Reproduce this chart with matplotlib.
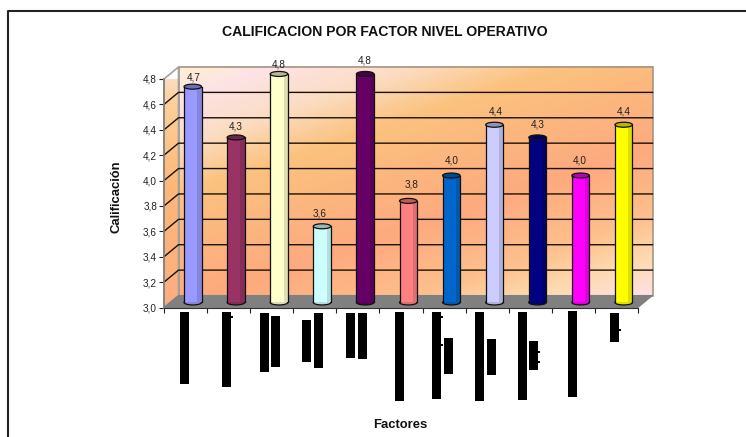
#!/usr/bin/env python3
"""
Calificacion por factor, nivel operativo: pseudo-3D cylinder chart.
Output: out.png
"""

import numpy as np
import matplotlib
matplotlib.use("Agg")
import matplotlib.pyplot as plt
from matplotlib.colors import LinearSegmentedColormap, to_rgb
from matplotlib.patches import Ellipse, Polygon, Rectangle

plt.rcParams["font.family"] = ["Liberation Sans", "DejaVu Sans"]

W, H = 746, 437

VALUES = [4.7, 4.3, 4.8, 3.6, 4.8, 3.8, 4.0, 4.4, 4.3, 4.0, 4.4]
VALUE_LABELS = ["4,7", "4,3", "4,8", "3,6", "4,8", "3,8", "4,0", "4,4", "4,3", "4,0", "4,4"]
BAR_COLORS = ["#9999FF", "#993366", "#FFFFCC", "#CCFFFF", "#660066", "#FF8080",
              "#0066CC", "#CCCCFF", "#000080", "#FF00FF", "#FFFF00"]
Y_TICKS = [3.0, 3.2, 3.4, 3.6, 3.8, 4.0, 4.2, 4.4, 4.6, 4.8]
Y_TICK_LABELS = ["3,0", "3,2", "3,4", "3,6", "3,8", "4,0", "4,2", "4,4", "4,6", "4,8"]

# gap between cylinder top and its value label, px
LABEL_GAPS = [9, 11, 9, 13, 13, 16, 15, 13, 13, 15, 13]
LABEL_SHIFTS = [1, 0, 0, -2, 0, 3, 0, 1, 0, -1, 0]

# blacked-out factor names under the axis: left, top, bottom (px)
NAME_BLOCKS = [
    (180, 312, 384), (222, 312, 387), (260, 313, 372), (271, 316, 367),
    (302, 320, 362), (314, 313, 368), (346, 313, 358), (358, 313, 359),
    (395, 312, 401), (432, 312, 399), (444, 338, 374), (475, 312, 401),
    (487, 339, 375), (518, 312, 400), (529, 341, 370), (568, 311, 397),
    (610, 313, 342),
]
# specks of the same names poking out past the blocks: x, y (px)
NAME_SPECKS = [(231, 316), (441, 316), (441, 344), (538, 351), (538, 361), (619, 329)]

AX_LEFT, AX_RIGHT, AX_TOP, AX_BOTTOM = 164, 638, 79, 307.5
DEPTH_X, DEPTH_Y = 14.5, 12
BAR_W_PX, CAP_H_PX = 17.5, 5

wall_cmap = LinearSegmentedColormap.from_list("wall", [
    (0.00, "#FFEFD2"), (0.08, "#FDE3E6"), (0.20, "#FBDDC4"), (0.33, "#FBC27E"),
    (0.62, "#FDAA7E"), (0.80, "#FDC08C"), (0.90, "#FDDAB0"), (1.00, "#FFE1E4"),
])
side_cmap = LinearSegmentedColormap.from_list("side", [
    (0.00, "#FFE2D4"), (0.15, "#FDD09A"), (0.50, "#FCB878"), (1.00, "#FDAE80"),
])

fig = plt.figure(figsize=(W / 100, H / 100), dpi=100)

# page-level layer in pixel coordinates: outer border and name blocks
page = fig.add_axes([0, 0, 1, 1])
page.set_xlim(0, W)
page.set_ylim(H, 0)
page.axis("off")
page.plot([7.5, 7.5, W], [H, 10.5, 10.5], color="#222222", linewidth=1.5)
for left, top, bottom in NAME_BLOCKS:
    page.add_patch(Rectangle((left, top), 9, bottom - top, color="black", linewidth=0))
for x, y in NAME_SPECKS:
    page.add_patch(Rectangle((x, y), 1.5, 1.5, color="black", linewidth=0))

ax = fig.add_axes([AX_LEFT / W, 1 - AX_BOTTOM / H, (AX_RIGHT - AX_LEFT) / W, (AX_BOTTOM - AX_TOP) / H])
ax.patch.set_alpha(0)
ax.set_xlim(0, len(VALUES))
ax.set_ylim(Y_TICKS[0], Y_TICKS[-1])

px_x = len(VALUES) / (AX_RIGHT - AX_LEFT)
px_y = (Y_TICKS[-1] - Y_TICKS[0]) / (AX_BOTTOM - AX_TOP)
dx, dy = DEPTH_X * px_x, DEPTH_Y * px_y
xmax = len(VALUES)
y0, y1 = Y_TICKS[0], Y_TICKS[-1]

# back wall, diagonal gradient
gx, gy = np.meshgrid(np.linspace(0, 1, 300), np.linspace(0, 1, 200))
ax.imshow(gx * 0.41 + gy * 0.59, cmap=wall_cmap, vmin=0, vmax=1, aspect="auto", interpolation="bilinear",
          extent=(dx, xmax + dx, y0 + dy, y1 + dy), origin="upper", clip_on=False, zorder=1)
ax.add_patch(Polygon([(dx, y0 + dy), (dx, y1 + dy), (xmax + dx, y1 + dy), (xmax + dx, y0 + dy)],
                     fill=False, edgecolor="#A59585", linewidth=1.2, clip_on=False, zorder=2))

# side wall
side = ax.imshow(np.linspace(0, 1, 100)[:, None], cmap=side_cmap, vmin=0, vmax=1, aspect="auto",
                 extent=(0, dx, y0, y1 + dy), origin="upper", clip_on=True, zorder=1)
side_poly = Polygon([(0, y0), (0, y1), (dx, y1 + dy), (dx, y0 + dy)], fill=False,
                    edgecolor="#A0A0A0", linewidth=1.2, clip_on=False, zorder=2)
ax.add_patch(side_poly)
side.set_clip_path(side_poly)

# floor
ax.add_patch(Polygon([(0, y0), (xmax, y0), (xmax + dx, y0 + dy), (dx, y0 + dy)],
                     facecolor="#808080", edgecolor="#808080", linewidth=0.8, clip_on=False, zorder=2))

# gridlines run along the back wall and fold onto the side wall
for tick in Y_TICKS[1:-1]:
    ax.plot([0, dx, xmax + dx], [tick, tick + dy, tick + dy], color="#1a1008", linewidth=1,
            clip_on=False, zorder=3)

bar_w = BAR_W_PX * px_x
cap_h = CAP_H_PX * px_y
for i, (value, label, color) in enumerate(zip(VALUES, VALUE_LABELS, BAR_COLORS)):
    cx = i + 0.5 + dx / 2
    base = y0 + dy * 0.42
    top = value + dy * 0.42
    dark = tuple(c * 0.87 for c in to_rgb(color))
    cap = tuple(c * 0.72 for c in to_rgb(color))

    # rounded bottom, body with shaded right side, then top cap
    ax.add_patch(Ellipse((cx, base), bar_w, cap_h, facecolor=dark, edgecolor="#111111",
                         linewidth=0.9, clip_on=False, zorder=4))
    ax.bar(cx, top - base, bottom=base, width=bar_w, color=color, linewidth=0, clip_on=False, zorder=5)
    ax.bar(cx + bar_w * 0.38, top - base, bottom=base, width=bar_w * 0.24, color=dark, linewidth=0,
           clip_on=False, zorder=5)
    ax.plot([cx - bar_w / 2] * 2, [base, top], color="#111111", linewidth=0.9, clip_on=False, zorder=6)
    ax.plot([cx + bar_w / 2] * 2, [base, top], color="#111111", linewidth=0.9, clip_on=False, zorder=6)
    ax.add_patch(Ellipse((cx, top), bar_w, cap_h, facecolor=cap, edgecolor="#111111",
                         linewidth=0.9, clip_on=False, zorder=7))
    ax.annotate(label, (cx, top), xytext=(LABEL_SHIFTS[i] * 0.72, LABEL_GAPS[i] * 0.72),
                textcoords="offset points", ha="center", va="center", fontsize=7.2, color="#222222",
                zorder=8, annotation_clip=False)

for side_name in ("top", "right"):
    ax.spines[side_name].set_visible(False)
ax.spines["left"].set_color("#808080")
ax.spines["left"].set_linewidth(1.2)
ax.spines["bottom"].set_color("#333333")
ax.spines["bottom"].set_linewidth(0.8)
ax.spines["left"].set_zorder(3)
ax.spines["bottom"].set_zorder(3)

ax.set_yticks(Y_TICKS, Y_TICK_LABELS, fontsize=7.2, color="#222222")
ax.set_xticks(range(len(VALUES) + 1), [""] * (len(VALUES) + 1))
ax.tick_params(axis="y", length=3.5, width=0.8, color="#222222", pad=1.5)
ax.tick_params(axis="x", length=3.5, width=0.8, color="#222222")

page.text(384.5, 31.5, "CALIFICACION POR FACTOR NIVEL OPERATIVO", ha="center", va="center",
          fontsize=10.1, fontweight="bold", color="#111111")
page.text(116, 197, "Calificación", rotation=90, ha="center", va="center",
          fontsize=9.4, fontweight="bold", color="#111111")
page.text(400, 425, "Factores", ha="center", va="center",
          fontsize=9.4, fontweight="bold", color="#111111")

plt.savefig("out.png", dpi=100)
plt.close()
